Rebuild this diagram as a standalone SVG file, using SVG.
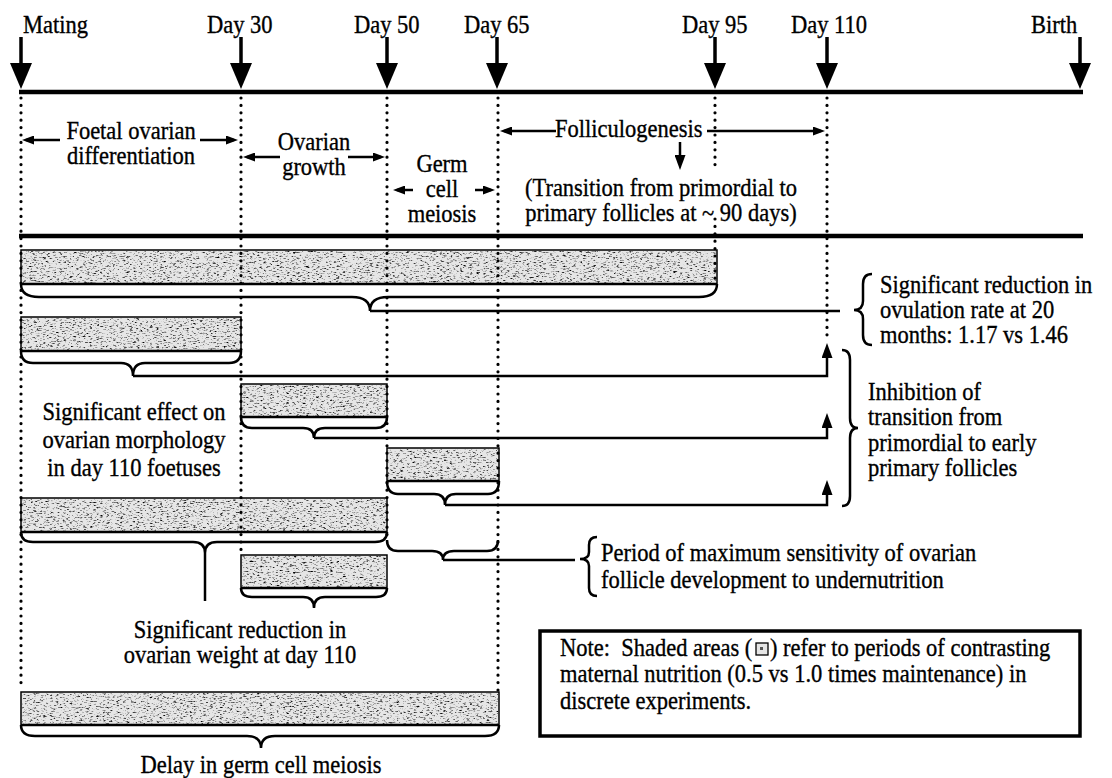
<svg xmlns="http://www.w3.org/2000/svg" width="1112" height="778" viewBox="0 0 1112 778">
<defs>
<style>
text{font-family:"Liberation Serif","Times New Roman",serif;font-size:25px;fill:#000;stroke:#000;stroke-width:0.35}
.m{text-anchor:middle}
.pre{white-space:pre}
.thick{stroke:#000;stroke-width:4.5}
.shaft{stroke:#000;stroke-width:3.5}
.ln{stroke:#000;stroke-width:2.5;fill:none}
.dot{stroke:#000;stroke-width:3.2;stroke-linecap:round;stroke-dasharray:0 7.4;fill:none}
.bar{fill:#e6e6e6;stroke:#000;stroke-width:1.5}
.grain{fill:#000;filter:url(#grain)}
.bb{stroke:#000;stroke-width:2.6}
.br{fill:none;stroke:#000;stroke-width:2.5}
</style>
<marker id="big" markerUnits="userSpaceOnUse" viewBox="0 0 26 22" markerWidth="26" markerHeight="22" refX="3" refY="11" orient="auto"><path d="M0,0 L26,11 L0,22 z"/></marker>
<marker id="sm" markerUnits="userSpaceOnUse" viewBox="0 0 12 9" markerWidth="12" markerHeight="9" refX="8" refY="4.5" orient="auto"><path d="M0,0 L12,4.5 L0,9 z"/></marker>
<marker id="up" markerUnits="userSpaceOnUse" viewBox="0 0 15 11" markerWidth="15" markerHeight="11" refX="9" refY="5.5" orient="auto"><path d="M0,0 L15,5.5 L0,11 z"/></marker>
<filter id="grain" x="0" y="0" width="1" height="1">
<feTurbulence type="fractalNoise" baseFrequency="0.3 0.8" numOctaves="3" seed="7" result="n"/>
<feColorMatrix in="n" type="matrix" values="0 0 0 0 0 0 0 0 0 0 0 0 0 0 0 3.4 0 0 0 -1.85" result="a"/>
<feComposite in="SourceGraphic" in2="a" operator="in"/>
</filter>
</defs>
<rect width="1112" height="778" fill="#fff"/>

<g id="axis">
<line class="thick" x1="19" y1="92" x2="1083" y2="92"/>
<line class="thick" x1="19" y1="236" x2="1083" y2="236"/>
</g>

<g id="m-mating"><text transform="translate(23 33) scale(.9 1)">Mating</text><line class="shaft" x1="21" y1="37" x2="21" y2="66" marker-end="url(#big)"/></g>
<g id="m-day30"><text transform="translate(207 33) scale(.9 1)">Day 30</text><line class="shaft" x1="241" y1="37" x2="241" y2="66" marker-end="url(#big)"/></g>
<g id="m-day50"><text transform="translate(354 33) scale(.9 1)">Day 50</text><line class="shaft" x1="387" y1="37" x2="387" y2="66" marker-end="url(#big)"/></g>
<g id="m-day65"><text transform="translate(464 33) scale(.9 1)">Day 65</text><line class="shaft" x1="497" y1="37" x2="497" y2="66" marker-end="url(#big)"/></g>
<g id="m-day95"><text transform="translate(682 33) scale(.9 1)">Day 95</text><line class="shaft" x1="715" y1="37" x2="715" y2="66" marker-end="url(#big)"/></g>
<g id="m-day110"><text transform="translate(791 33) scale(.9 1)">Day 110</text><line class="shaft" x1="827" y1="37" x2="827" y2="66" marker-end="url(#big)"/></g>
<g id="m-birth"><text transform="translate(1031 33) scale(.9 1)">Birth</text><line class="shaft" x1="1080" y1="37" x2="1080" y2="66" marker-end="url(#big)"/></g>

<g id="phase-foetal">
<text class="m" transform="translate(131 139) scale(.9 1)">Foetal ovarian</text>
<text class="m" transform="translate(131 164) scale(.9 1)">differentiation</text>
<line class="ln" x1="60" y1="140" x2="26" y2="140" marker-end="url(#sm)"/>
<line class="ln" x1="200" y1="140" x2="234" y2="140" marker-end="url(#sm)"/>
</g>
<g id="phase-growth">
<text class="m" transform="translate(314 150) scale(.9 1)">Ovarian</text>
<text class="m" transform="translate(314 175) scale(.9 1)">growth</text>
<line class="ln" x1="280" y1="157" x2="247" y2="157" marker-end="url(#sm)"/>
<line class="ln" x1="348" y1="157" x2="381" y2="157" marker-end="url(#sm)"/>
</g>
<g id="phase-meiosis">
<text class="m" transform="translate(442 172) scale(.9 1)">Germ</text>
<text class="m" transform="translate(442 197) scale(.9 1)">cell</text>
<text class="m" transform="translate(442 222) scale(.9 1)">meiosis</text>
<line class="ln" x1="413" y1="190" x2="397" y2="190" marker-end="url(#sm)"/>
<line class="ln" x1="475" y1="190" x2="491" y2="190" marker-end="url(#sm)"/>
</g>
<g id="phase-folliculogenesis">
<text transform="translate(555 137) scale(.9 1)">Folliculogenesis</text>
<line class="ln" x1="556" y1="131" x2="504" y2="131" marker-end="url(#sm)"/>
<line class="ln" x1="707" y1="131" x2="821" y2="131" marker-end="url(#sm)"/>
<line class="ln" x1="680" y1="142" x2="680" y2="164" marker-end="url(#up)"/>
<text class="m" transform="translate(661 196) scale(.9 1)">(Transition from primordial to</text>
<text class="m" transform="translate(661 221) scale(.9 1)">primary follicles at ~ 90 days)</text>
</g>

<g id="exp1">
<rect class="bar" x="21" y="250" width="696" height="34"/><rect class="grain" x="22" y="251" width="694" height="32"/>
<line class="bb" x1="21" y1="284" x2="717" y2="284"/>
<path class="br" d="M21 284 Q21 297 39 297 L352 297 Q370 297 370 311 Q370 297 388 297 L699 297 Q717 297 717 284"/>
</g>
<g id="exp2">
<rect class="bar" x="21" y="317" width="220" height="34"/><rect class="grain" x="22" y="318" width="218" height="32"/>
<line class="bb" x1="21" y1="351" x2="241" y2="351"/>
<path class="br" d="M21 351 Q21 363 33 363 L121 363 Q133 363 133 376 Q133 363 145 363 L229 363 Q241 363 241 351"/>
</g>
<g id="exp3">
<rect class="bar" x="241" y="384" width="146" height="33"/><rect class="grain" x="242" y="385" width="144" height="31"/>
<line class="bb" x1="241" y1="417" x2="387" y2="417"/>
<path class="br" d="M241 417 Q241 428 252 428 L303 428 Q314 428 314 438 Q314 428 325 428 L376 428 Q387 428 387 417"/>
</g>
<g id="exp4">
<rect class="bar" x="387" y="448" width="112" height="33"/><rect class="grain" x="388" y="449" width="110" height="31"/>
<line class="bb" x1="387" y1="481" x2="499" y2="481"/>
<path class="br" d="M387 481 Q387 494 398 494 L434 494 Q445 494 445 505 Q445 494 456 494 L488 494 Q499 494 499 481"/>
</g>
<g id="exp5">
<rect class="bar" x="21" y="498" width="366" height="34"/><rect class="grain" x="22" y="499" width="364" height="32"/>
<line class="bb" x1="21" y1="532" x2="387" y2="532"/>
<path class="br" d="M21 532 Q21 542 33 542 L193 542 Q205 542 205 553 Q205 542 217 542 L375 542 Q387 542 387 532"/>
</g>
<g id="window">
<path class="br" d="M387 540 Q387 551 398 551 L432 551 Q443 551 443 560 Q443 551 454 551 L487 551 Q498 551 498 540"/>
</g>
<g id="exp6">
<rect class="bar" x="241" y="555" width="146" height="33"/><rect class="grain" x="242" y="556" width="144" height="31"/>
<line class="bb" x1="241" y1="588" x2="387" y2="588"/>
<path class="br" d="M241 588 Q241 597 252 597 L303 597 Q314 597 314 608 Q314 597 325 597 L376 597 Q387 597 387 588"/>
</g>
<g id="exp7">
<rect class="bar" x="21" y="692" width="478" height="33"/><rect class="grain" x="22" y="693" width="476" height="31"/>
<line class="bb" x1="21" y1="725" x2="499" y2="725"/>
<path class="br" d="M21 725 Q21 736 35 736 L247 736 Q261 736 261 748 Q261 736 275 736 L485 736 Q499 736 499 725"/>
</g>

<g id="guides">
<line class="dot" x1="21" y1="98" x2="21" y2="690"/>
<line class="dot" x1="241" y1="98" x2="241" y2="553"/>
<line class="dot" x1="387" y1="98" x2="387" y2="541"/>
<line class="dot" x1="498" y1="98" x2="498" y2="691"/>
<line class="dot" x1="715" y1="98" x2="715" y2="166"/>
<line class="dot" x1="715" y1="219" x2="715" y2="282"/>
<line class="dot" x1="827" y1="98" x2="827" y2="342"/>
</g>

<g id="connectors">
<path class="ln" d="M370 311 H840"/>
<path class="ln" d="M133 376 H827 V349" marker-end="url(#up)"/>
<path class="ln" d="M314 438 H827 V419" marker-end="url(#up)"/>
<path class="ln" d="M445 505 H827 V486" marker-end="url(#up)"/>
<path class="ln" d="M443 560 H575"/>
<path class="ln" d="M205 553 V601"/>
</g>

<g id="res-ovulation">
<path class="br" d="M872 274 Q863 274 863 284 L863 301 Q863 310 854 310 Q863 310 863 319 L863 335 Q863 345 872 345"/>
<text transform="translate(880 293) scale(.9 1)">Significant reduction in</text>
<text transform="translate(880 318) scale(.9 1)">ovulation rate at 20</text>
<text transform="translate(880 343) scale(.9 1)">months: 1.17 vs 1.46</text>
</g>
<g id="res-inhibition">
<path class="br" d="M842 350 Q850 350 850 360 L850 418 Q850 428 858 428 Q850 428 850 438 L850 496 Q850 506 842 506"/>
<text transform="translate(868 400) scale(.9 1)">Inhibition of</text>
<text transform="translate(868 425) scale(.9 1)">transition from</text>
<text transform="translate(868 451) scale(.9 1)">primordial to early</text>
<text transform="translate(868 476) scale(.9 1)">primary follicles</text>
</g>
<g id="res-morphology">
<text class="m" transform="translate(134 420) scale(.9 1)">Significant effect on</text>
<text class="m" transform="translate(134 448) scale(.9 1)">ovarian morphology</text>
<text class="m" transform="translate(134 476) scale(.9 1)">in day 110 foetuses</text>
</g>
<g id="res-sensitivity">
<path class="br" d="M597 537 Q589 537 589 545 L589 552 Q589 559 580 559 Q589 559 589 566 L589 588 Q589 596 597 596"/>
<text transform="translate(601 561) scale(.9 1)">Period of maximum sensitivity of ovarian</text>
<text transform="translate(601 588) scale(.9 1)">follicle development to undernutrition</text>
</g>
<g id="res-weight">
<text class="m" transform="translate(240 638) scale(.9 1)">Significant reduction in</text>
<text class="m" transform="translate(240 663) scale(.9 1)">ovarian weight at day 110</text>
</g>
<g id="res-meiosis">
<text class="m" transform="translate(261 773) scale(.9 1)">Delay in germ cell meiosis</text>
</g>
<g id="note">
<rect x="540" y="631" width="540" height="105" fill="#fff" stroke="#000" stroke-width="3.5"/>
<text class="pre" transform="translate(560 656) scale(.9 1)">Note:  Shaded areas (</text>
<rect x="756" y="643" width="12" height="12" fill="#e6e6e6" stroke="#000" stroke-width="1.3"/>
<rect x="760" y="647" width="3" height="3" fill="#555"/>
<text transform="translate(770 656) scale(.9 1)">) refer to periods of contrasting</text>
<text transform="translate(560 682) scale(.9 1)">maternal nutrition (0.5 vs 1.0 times maintenance) in</text>
<text transform="translate(560 709) scale(.9 1)">discrete experiments.</text>
</g>
</svg>
